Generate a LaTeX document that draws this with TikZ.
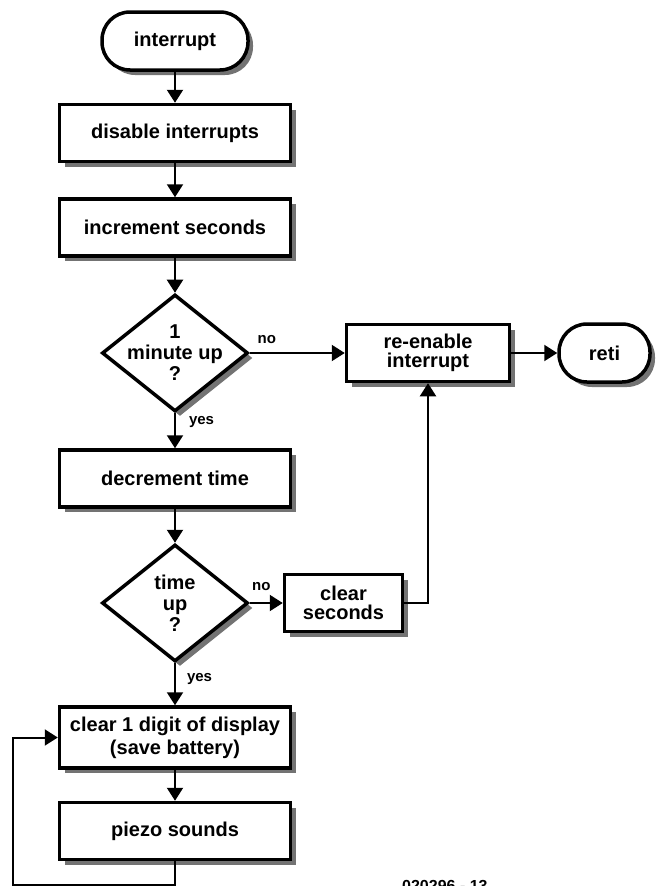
\documentclass[tikz,border=0pt]{standalone}
\usepackage{fontspec}
\setmainfont{Liberation Sans}
\usepackage{tikz}
\usetikzlibrary{positioning, arrows.meta, shapes.geometric, shadows}
\tikzset{flecha/.style={line width=2pt, -{Triangle[length=13pt,width=16pt]}}}
\tikzset{sombra/.style={drop shadow={shadow xshift=5pt, shadow yshift=-5pt, fill=black!55, opacity=1}}}
\tikzset{caja/.style={draw, rectangle, line width=3.5pt, fill=white, sombra, minimum width=231pt, minimum height=57pt, align=center}}
\tikzset{terminal/.style={draw, rectangle, rounded corners=28pt, line width=3.5pt, fill=white, sombra, minimum width=146pt, minimum height=58pt, align=center}}
\tikzset{decision/.style={draw, diamond, aspect=1.25, line width=3.5pt, fill=white, sombra, inner sep=-5pt, minimum width=146pt, minimum height=117pt, align=center, font=\bfseries\fontsize{20}{21}\selectfont}}
\tikzset{etiq/.style={font=\bfseries\fontsize{15}{15}\selectfont, inner sep=2pt}}

\begin{document}
\begin{tikzpicture}[
            x = 1pt, y = 1pt,
            every node/.style={font=\bfseries\fontsize{20}{18.5}\selectfont}
        ]
            \useasboundingbox (0,0) rectangle (659,-886);
            \clip (0,0) rectangle (659,-886);

            \node[terminal] (1) at (175,-41) {interrupt};
            \node[caja, below=31pt of 1] (2) {disable interrupts};
            \node[caja, below=34pt of 2] (3) {increment seconds};
            \node[decision, below=35pt of 3] (4) {1\\minute up\\?};
            \node[caja, below=35pt of 4] (5) {decrement time};
            \node[decision, below=34pt of 5] (6) {time\\up\\?};
            \node[caja, below=42pt of 6, minimum height=61pt] (7) {clear 1 digit of display\\[3pt](save battery)};
            \node[caja, below=31pt of 7] (8) {piezo sounds};
            \node[caja, right=95pt of 4, minimum width=163pt] (9) {re-enable\\interrupt};
            \node[terminal, right=46pt of 9, minimum width=91pt] (10) {reti};
            \node[caja, right=33pt of 6, minimum width=118pt] (11) {clear\\seconds};
            \node[anchor=base west, inner sep=0pt, font=\bfseries\fontsize{16}{16}\selectfont] (12) at (402,-891) {020296 - 13};
            \coordinate (c1) at (175,-885);
            \coordinate (c2) at (13,-885);

            \draw[flecha] (1) to (2);
            \draw[flecha] (2) to (3);
            \draw[flecha] (3) to (4);
            \draw[flecha] (4) to node[etiq, right, xshift=11pt, pos=0.26] {yes} (5);
            \draw[flecha] (4) to node[etiq, above=6pt, pos=0.18] {no} (9);
            \draw[flecha] (9) to (10);
            \draw[flecha] (5) to (6);
            \draw[flecha] (6) to node[etiq, right, xshift=9pt, pos=0.37] {yes} (7);
            \draw[flecha] (6) to node[etiq, above=9pt, pos=0.35] {no} (11);
            \draw[flecha] (11.east) -| (9.south);
            \draw[flecha] (7) to (8);
            \draw[flecha] (8) -- (c1) -- (c2) |- (7);
        \end{tikzpicture}
\end{document}
